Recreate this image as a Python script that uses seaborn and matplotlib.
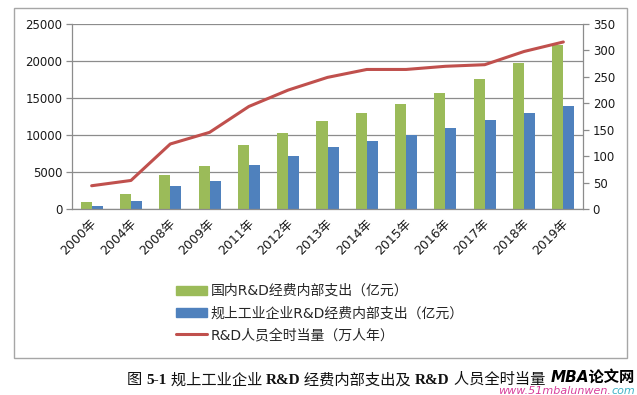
import numpy as np
import pandas as pd
import matplotlib
matplotlib.use("Agg")
import matplotlib.pyplot as plt
import matplotlib.transforms as mtransforms
from matplotlib.patches import Rectangle
from matplotlib.offsetbox import TextArea, HPacker, AnchoredOffsetbox
import seaborn as sns

# data
years = ["2000年", "2004年", "2008年", "2009年", "2011年", "2012年", "2013年",
         "2014年", "2015年", "2016年", "2017年", "2018年", "2019年"]
rd_national = [896, 1966, 4616, 5802, 8687, 10298, 11847,
               13016, 14170, 15677, 17606, 19678, 22144]
rd_industry = [450, 1104, 3073, 3776, 5994, 7201, 8318,
               9254, 10014, 10945, 12013, 12955, 13971]
rd_staff = [44, 54, 123, 145, 194, 225, 249, 264, 264, 270, 273, 298, 316]

label_national = "国内R&D经费内部支出（亿元）"
label_industry = "规上工业企业R&D经费内部支出（亿元）"
label_staff = "R&D人员全时当量（万人年）"

GREEN = "#9BBB59"
BLUE = "#4F81BD"
RED = "#C0504D"
GRID = "#8C8C8C"

sns.set_theme(style="white")
plt.rcParams["font.family"] = ["DejaVu Sans", "Noto Sans CJK SC"]
plt.rcParams["axes.unicode_minus"] = False

df = pd.DataFrame({
    "year": years * 2,
    "value": rd_national + rd_industry,
    "series": [label_national] * len(years) + [label_industry] * len(years),
})

fig = plt.figure(figsize=(6.37, 3.95), dpi=100)
ax = fig.add_axes([72 / 637, 1 - 209 / 395, (583 - 72) / 637, (209 - 24) / 395])

sns.barplot(data=df, x="year", y="value", hue="series", order=years,
            hue_order=[label_national, label_industry],
            palette=[GREEN, BLUE], width=0.56, gap=0, saturation=1,
            edgecolor="none", ax=ax, legend=False)

ax.set_ylim(0, 25000)
ax.set_yticks(np.arange(0, 25001, 5000))
ax.set_xlim(-0.5, len(years) - 0.5)
ax.set_xlabel("")
ax.set_ylabel("")
ax.yaxis.grid(True, color=GRID, lw=0.9)
ax.set_axisbelow(True)
for side in ["top", "right"]:
    ax.spines[side].set_visible(False)
for side in ["left", "bottom"]:
    ax.spines[side].set_color(GRID)
    ax.spines[side].set_linewidth(0.9)

# category boundaries carry the tick marks, labels sit at centres
ax.set_xticks(np.arange(len(years) + 1) - 0.5, minor=True)
ax.tick_params(axis="x", which="minor", length=4.5, color=GRID, width=0.9, direction="out")
ax.tick_params(axis="x", which="major", length=0, pad=9, labelsize=9, labelcolor="#1a1a1a")
ax.tick_params(axis="y", length=4, color=GRID, width=0.9, direction="out",
               left=True, labelsize=8.5, labelcolor="#1a1a1a", pad=3)
ax.set_xticks(np.arange(len(years)))
ax.set_xticklabels(years, rotation=45, ha="right", va="center", rotation_mode="anchor")
shift = mtransforms.ScaledTranslation(3 / 100, 0, fig.dpi_scale_trans)
for lab in ax.get_xticklabels():
    lab.set_transform(lab.get_transform() + shift)

ax2 = ax.twinx()
sns.lineplot(x=np.arange(len(years)), y=rd_staff, color=RED, lw=2.2, ax=ax2,
             label=label_staff, legend=False)
ax2.set_ylim(0, 350)
ax2.set_yticks(np.arange(0, 351, 50))
ax2.grid(False)
for side in ["top", "left", "bottom"]:
    ax2.spines[side].set_visible(False)
ax2.spines["right"].set_color(GRID)
ax2.spines["right"].set_linewidth(0.9)
ax2.tick_params(axis="y", length=4, color=GRID, width=0.9, direction="out",
                right=True, labelsize=8.5, labelcolor="#1a1a1a", pad=3)

# legend below the plot
handles = [Rectangle((0, 0), 1, 1, color=GREEN), Rectangle((0, 0), 1, 1, color=BLUE),
           plt.Line2D([0], [0], color=RED, lw=2.2)]
fig.legend(handles, [label_national, label_industry, label_staff],
           loc="upper left", bbox_to_anchor=(176 / 637, 1 - 284 / 395),
           frameon=False, fontsize=10, handlelength=2.2, handleheight=0.6,
           handletextpad=0.3, labelspacing=0.58, borderpad=0, borderaxespad=0)

# chart frame
fig.add_artist(Rectangle((14 / 637, 1 - 358 / 395), (627 - 14) / 637, (358 - 8) / 395,
                         transform=fig.transFigure, fill=False, edgecolor="#A6A6A6", lw=1))

# caption with bold latin parts
serif = ["Liberation Serif", "Noto Sans CJK SC"]
parts = [("图 ", "normal"), ("5-1", "bold"), (" 规上工业企业 ", "normal"), ("R&D", "bold"),
         (" 经费内部支出及 ", "normal"), ("R&D", "bold"), (" 人员全时当量", "normal")]
boxes = [TextArea(s, textprops=dict(family=serif, weight=w, size=11, color="#111111"))
         for s, w in parts]
cap = AnchoredOffsetbox(loc="center", child=HPacker(children=boxes, pad=0, sep=0, align="baseline"),
                        bbox_to_anchor=(336 / 637, 1 - 380 / 395), bbox_transform=fig.transFigure,
                        frameon=False, pad=0, borderpad=0)
fig.add_artist(cap)

# watermark
wm = TextArea("MBA论文网", textprops=dict(family=["DejaVu Sans", "Noto Sans CJK SC"],
                                            weight="bold", style="italic", size=11, color="black"))
fig.add_artist(AnchoredOffsetbox(loc="center right", child=wm,
                                 bbox_to_anchor=(635 / 637, 1 - 377 / 395),
                                 bbox_transform=fig.transFigure, frameon=False, pad=0, borderpad=0))
url = HPacker(children=[
    TextArea("www.51mbalunwen.", textprops=dict(style="italic", size=8, color="#D8409C")),
    TextArea("com", textprops=dict(style="italic", size=8, color="#3FB4C8"))],
    pad=0, sep=0, align="baseline")
fig.add_artist(AnchoredOffsetbox(loc="center right", child=url,
                                 bbox_to_anchor=(635 / 637, 1 - 391 / 395),
                                 bbox_transform=fig.transFigure, frameon=False, pad=0, borderpad=0))

fig.savefig("out.png", dpi=100)
